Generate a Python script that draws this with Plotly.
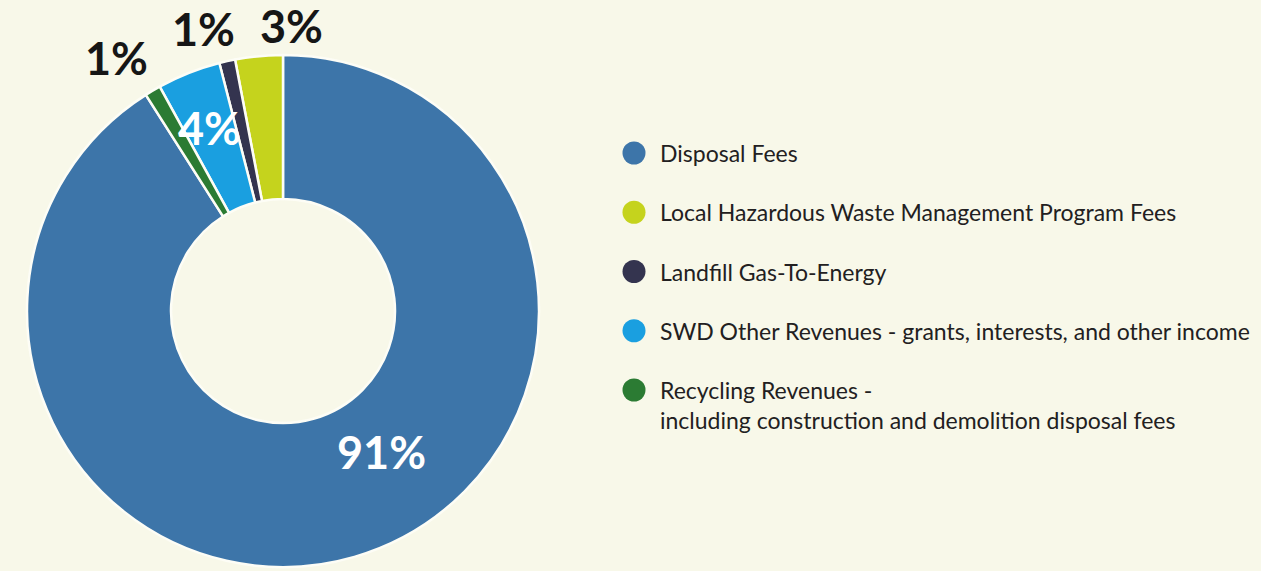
import plotly.graph_objects as go

# Revenue sources and their shares (percent of total)
categories = [
    "Disposal Fees",
    "Local Hazardous Waste Management Program Fees",
    "Landfill Gas-To-Energy",
    "SWD Other Revenues - grants, interests, and other income",
    "Recycling Revenues - including construction and demolition disposal fees",
]
legend_labels = [
    "Disposal Fees",
    "Local Hazardous Waste Management Program Fees",
    "Landfill Gas-To-Energy",
    "SWD Other Revenues - grants, interests, and other income",
    "Recycling Revenues -<br>including construction and demolition disposal fees",
]
shares = [91, 3, 1, 4, 1]
colors = ["#3d75a9", "#c5d31d", "#34344f", "#1a9fe0", "#2b7b33"]

W, H = 1261, 571
BG = "#f8f8e9"

# Donut geometry in pixels
CX, CY, R = 283, 311, 256
HOLE = 0.4375

# Percentage label anchors (pixels) and colours, one per slice
label_pos = [(381, 452), (291, 26), (203, 29), (209, 128), (116, 58)]
label_col = ["#ffffff", "#161616", "#161616", "#ffffff", "#161616"]

# Legend layout (pixels)
LEG_X, LEG_Y0, LEG_STEP = 634, 153, 59.25
LEG_GAP = 24

fig = go.Figure()

fig.add_trace(go.Pie(
    labels=categories,
    values=shares,
    sort=False,
    direction="counterclockwise",
    rotation=0,
    hole=HOLE,
    textinfo="none",
    hoverinfo="label+percent",
    marker=dict(colors=colors, line=dict(color="#fdfdf6", width=2.5)),
    domain=dict(x=[(CX - R) / W, (CX + R) / W],
                y=[1 - (CY + R) / H, 1 - (CY - R) / H]),
    showlegend=False,
))

# Legend markers
leg_y = [LEG_Y0 + i * LEG_STEP for i in range(len(categories))]
fig.add_trace(go.Scatter(
    x=[LEG_X] * len(categories),
    y=leg_y,
    mode="markers",
    marker=dict(size=23, color=colors, line=dict(width=0)),
    hoverinfo="skip",
    showlegend=False,
))

annotations = []
for v, (px, py), c in zip(shares, label_pos, label_col):
    annotations.append(dict(
        x=px, y=py, xref="x", yref="y",
        text=f"<b>{v}%</b>", showarrow=False,
        xanchor="center", yanchor="middle",
        font=dict(family="Lato", size=45, color=c),
    ))
for lab, y in zip(legend_labels, leg_y):
    annotations.append(dict(
        x=LEG_X + LEG_GAP, y=y, xref="x", yref="y",
        text=lab, showarrow=False, align="left",
        xanchor="left", yanchor="top", yshift=16,
        font=dict(family="Lato", size=23, color="#222021"),
    ))

fig.update_layout(
    width=W, height=H,
    margin=dict(l=0, r=0, t=0, b=0),
    paper_bgcolor=BG, plot_bgcolor="rgba(0,0,0,0)",
    xaxis=dict(range=[0, W], visible=False, fixedrange=True),
    yaxis=dict(range=[H, 0], visible=False, fixedrange=True),
    annotations=annotations,
    showlegend=False,
)

fig.write_html("out.html")
